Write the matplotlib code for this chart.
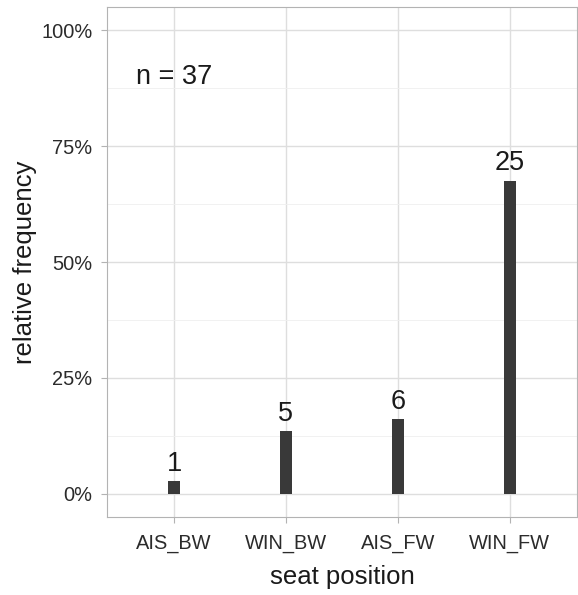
import matplotlib
matplotlib.use("Agg")
import matplotlib.pyplot as plt
from matplotlib.ticker import FixedLocator, PercentFormatter

plt.rcParams['font.family'] = ['Liberation Sans', 'DejaVu Sans']

positions = ["AIS_BW", "WIN_BW", "AIS_FW", "WIN_FW"]
counts = [1, 5, 6, 25]
n_total = sum(counts)
rel_freq = [c / n_total for c in counts]

fig = plt.figure(figsize=(5.78, 5.95), dpi=100)
ax = fig.add_axes([0.185, 0.131, 0.813, 0.857])

x = list(range(1, len(positions) + 1))
ax.bar(x, rel_freq, width=0.11, color="#393939", zorder=3)

for xi, c, f in zip(x, counts, rel_freq):
    ax.annotate(str(c), (xi, f), xytext=(0, 3), textcoords="offset points",
                ha="center", va="bottom", fontsize=19.5, color="#1a1a1a", zorder=4)

ax.text(1, 0.9, f"n = {n_total}", ha="center", va="center", fontsize=19.5,
        color="#1a1a1a")

ax.set_xlim(0.4, 4.6)
ax.set_ylim(-0.05, 1.05)
ax.set_xticks(x)
ax.set_xticklabels(positions)
ax.yaxis.set_major_locator(FixedLocator([0, 0.25, 0.5, 0.75, 1.0]))
ax.yaxis.set_minor_locator(FixedLocator([0.125, 0.375, 0.625, 0.875]))
ax.yaxis.set_major_formatter(PercentFormatter(1.0, decimals=0))

ax.grid(True, which="major", axis="both", color="#DEDEDE", linewidth=1.0, zorder=0)
ax.grid(True, which="minor", axis="y", color="#EFEFEF", linewidth=0.6, zorder=0)
ax.set_axisbelow(True)

for s in ax.spines.values():
    s.set_color("#B3B3B3")
    s.set_linewidth(0.8)

ax.tick_params(axis="both", which="major", length=4, width=0.8, color="#B3B3B3",
               labelsize=14.4, labelcolor="#2b2b2b")
ax.tick_params(axis="x", which="major", pad=8)
ax.tick_params(axis="y", which="major", pad=6.5)
ax.tick_params(axis="y", which="minor", length=0)

ax.set_xlabel("seat position", fontsize=18.5, color="#1a1a1a", labelpad=9)
ax.set_ylabel("relative frequency", fontsize=18.5, color="#1a1a1a", labelpad=3)

fig.savefig("out.png", dpi=100)
